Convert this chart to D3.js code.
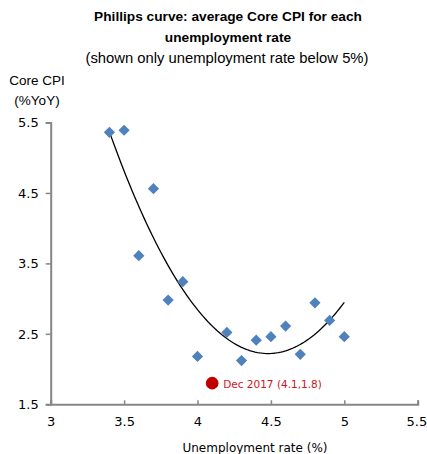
<!DOCTYPE html>
<html>
<head>
<meta charset="utf-8">
<script src="https://cdn.jsdelivr.net/npm/d3@7"></script>
<style>
  html, body { margin: 0; padding: 0; background: #fff; }
  svg { display: block; }
</style>
</head>
<body>
<svg id="chart" width="427" height="454"></svg>
<script>
// Average core CPI (%YoY) for each unemployment rate level
const unemployment = [3.4, 3.5, 3.6, 3.7, 3.8, 3.9, 4.0, 4.2, 4.3, 4.4, 4.5, 4.6, 4.7, 4.8, 4.9, 5.0];
const coreCpi      = [5.36, 5.39, 3.61, 4.56, 2.98, 3.24, 2.18, 2.52, 2.12, 2.41, 2.46, 2.61, 2.21, 2.94, 2.69, 2.46];

// Latest observation, highlighted
const latestLabel = "Dec 2017 (4.1,1.8)";
const latestX = 4.1;
const latestY = 1.8;

const xTicks = [3, 3.5, 4, 4.5, 5, 5.5];
const yTicks = [1.5, 2.5, 3.5, 4.5, 5.5];

const titleLines = ["Phillips curve: average Core CPI for each", "unemployment rate"];
const subtitle = "(shown only unemployment rate below 5%)";
const yTitleLines = ["Core CPI", "(%YoY)"];
const xTitle = "Unemployment  rate (%)";

const svg = d3.select("#chart");
const font = "'Liberation Sans', Arial, sans-serif";
const tickFont = "'DejaVu Sans', Verdana, sans-serif";
const axisColor = "#868686";

const x = d3.scaleLinear().domain([3, 5.5]).range([50.7, 417.7]);
const y = d3.scaleLinear().domain([1.5, 5.5]).range([404.3, 122.5]);

// Titles
svg.selectAll("text.title").data(titleLines).join("text")
  .attr("class", "title")
  .attr("x", 228).attr("y", (d, i) => 21 + i * 21)
  .attr("text-anchor", "middle")
  .attr("font-family", font).attr("font-weight", "bold").attr("font-size", 13.7)
  .attr("fill", "#000").text(d => d);

svg.append("text")
  .attr("x", 227).attr("y", 63)
  .attr("text-anchor", "middle")
  .attr("font-family", font).attr("font-size", 14.8)
  .attr("fill", "#000").text(subtitle);

svg.selectAll("text.ytitle").data(yTitleLines).join("text")
  .attr("class", "ytitle")
  .attr("x", 37).attr("y", (d, i) => 85 + i * 20)
  .attr("text-anchor", "middle")
  .attr("font-family", font).attr("font-size", 13.5)
  .attr("fill", "#000").text(d => d);

// Axes
const xAxis = d3.axisBottom(x).tickValues(xTicks).tickSize(-4).tickPadding(12)
  .tickFormat(d3.format("~g"));
const yAxis = d3.axisLeft(y).tickValues(yTicks).tickSize(5).tickPadding(7)
  .tickFormat(d3.format(".1f"));

const gx = svg.append("g").attr("transform", `translate(0,${y(1.5)})`).call(xAxis);
const gy = svg.append("g").attr("transform", `translate(${x(3)},0)`).call(yAxis);

[gx, gy].forEach(g => {
  g.select(".domain").attr("stroke", axisColor).attr("stroke-width", 2);
  g.selectAll(".tick line").attr("stroke", axisColor).attr("stroke-width", 1.5);
  g.selectAll(".tick text").attr("font-family", tickFont)
    .attr("font-size", 13).attr("fill", "#000");
});
gx.selectAll(".tick text").attr("dy", "0.71em").attr("y", 12);
// keep the last x tick label inside the frame
gx.selectAll(".tick text").filter(d => d === 5.5).attr("text-anchor", "end").attr("x", 9);

svg.append("text")
  .attr("x", 255).attr("y", 452)
  .attr("text-anchor", "middle")
  .attr("font-family", tickFont).attr("font-size", 12)
  .attr("fill", "#000").text(xTitle);

// Second-order polynomial trendline (least squares) over the data
function polyFit2(xs, ys) {
  const n = xs.length;
  let s = [0, 0, 0, 0, 0], t = [0, 0, 0];
  for (let i = 0; i < n; i++) {
    let p = 1;
    for (let k = 0; k < 5; k++) { s[k] += p; if (k < 3) t[k] += p * ys[i]; p *= xs[i]; }
  }
  const A = [[s[0], s[1], s[2], t[0]], [s[1], s[2], s[3], t[1]], [s[2], s[3], s[4], t[2]]];
  for (let c = 0; c < 3; c++) {
    for (let r = c + 1; r < 3; r++) {
      const f = A[r][c] / A[c][c];
      for (let k = c; k < 4; k++) A[r][k] -= f * A[c][k];
    }
  }
  const coef = [0, 0, 0];
  for (let r = 2; r >= 0; r--) {
    let v = A[r][3];
    for (let k = r + 1; k < 3; k++) v -= A[r][k] * coef[k];
    coef[r] = v / A[r][r];
  }
  return coef;
}
const cf = polyFit2(unemployment, coreCpi);
const xMin = d3.min(unemployment), xMax = d3.max(unemployment);
const trendXs = d3.range(0, 101).map(i => xMin + (xMax - xMin) * i / 100);
svg.append("path")
  .datum(trendXs)
  .attr("fill", "none").attr("stroke", "#000").attr("stroke-width", 1.3)
  .attr("d", d3.line().x(d => x(d)).y(d => y(cf[0] + cf[1] * d + cf[2] * d * d)));

// Diamond markers
const diamond = d3.symbol().type(d3.symbolDiamond2).size(80);
svg.append("g").selectAll("path").data(unemployment.map((u, i) => [u, coreCpi[i]])).join("path")
  .attr("transform", d => `translate(${x(d[0])},${y(d[1])})`)
  .attr("d", diamond)
  .attr("fill", "#4F81BD");

// Highlighted latest point
svg.append("circle")
  .attr("cx", x(latestX)).attr("cy", y(latestY)).attr("r", 6.3)
  .attr("fill", "#C00000");
svg.append("text")
  .attr("x", x(latestX) + 11).attr("y", y(latestY) + 4.5)
  .attr("font-family", tickFont).attr("font-size", 10.5)
  .attr("fill", "#D0141C").text(latestLabel);
</script>
</body>
</html>
